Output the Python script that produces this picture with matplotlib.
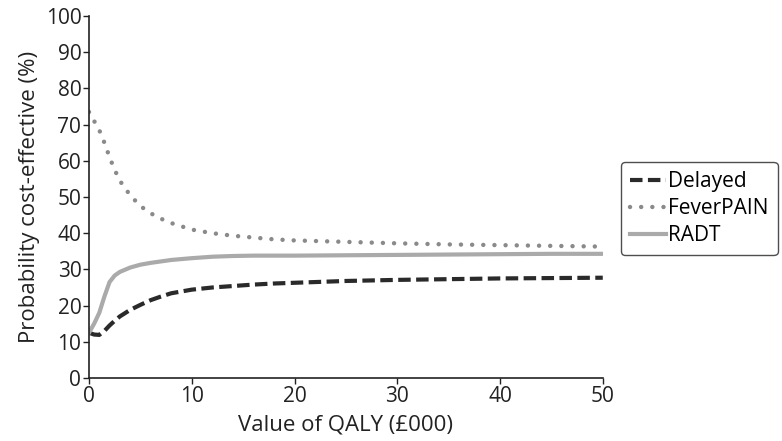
import numpy as np
import matplotlib.pyplot as plt

plt.rcParams['font.family'] = ['Open Sans', 'DejaVu Sans']

# willingness to pay per QALY (£000)
qaly = [0, 0.5, 1, 1.5, 2, 2.5, 3, 4, 5, 6, 7, 8, 10, 12, 14, 16, 18, 20,
        25, 30, 35, 40, 45, 50]
delayed = [12.5, 12.0, 11.9, 13.0, 14.5, 15.8, 17.0, 18.8, 20.2, 21.5, 22.5,
           23.4, 24.4, 25.0, 25.4, 25.8, 26.1, 26.3, 26.8, 27.1, 27.3, 27.5,
           27.6, 27.7]
feverpain = [73.5, 71.0, 68.5, 65.0, 61.0, 57.5, 54.5, 50.5, 47.5, 45.5, 44.0,
             42.8, 41.0, 40.0, 39.3, 38.8, 38.3, 38.0, 37.6, 37.2, 36.9, 36.7,
             36.5, 36.3]
radt = [12.5, 15.0, 18.0, 22.5, 26.5, 28.3, 29.3, 30.5, 31.3, 31.8, 32.2,
        32.6, 33.1, 33.5, 33.7, 33.8, 33.8, 33.8, 33.9, 34.0, 34.1, 34.2,
        34.3, 34.3]

fig = plt.figure(figsize=(7.82, 4.41), dpi=100)
ax = fig.add_axes([0.1138, 0.1429, 0.657, 0.8208])

ax.plot(qaly, delayed, color='#2a2a2a', lw=3.0, ls=(0, (3.0, 1.3)),
        label='Delayed')
ax.plot(qaly, feverpain, color='#8a8a8a', lw=3.2, ls=(0, (0.01, 2.5)),
        dash_capstyle='round', label='FeverPAIN')
ax.plot(qaly, radt, color='#aaaaaa', lw=3.0, label='RADT')

ax.set_xlim(0, 50)
ax.set_ylim(0, 100)
ax.set_xticks(np.arange(0, 51, 10))
ax.set_yticks(np.arange(0, 101, 10))
ax.tick_params(labelsize=15, length=4, width=1, colors='#222222', pad=1.5)
for s in ['top', 'right']:
    ax.spines[s].set_visible(False)
for s in ['left', 'bottom']:
    ax.spines[s].set_linewidth(1.2)
    ax.spines[s].set_color('#222222')

ax.set_xlabel('Value of QALY (£000)', fontsize=16, color='#222222', labelpad=6)
ax.set_ylabel('Probability cost-effective (%)', fontsize=16,
              color='#222222', labelpad=4)

leg = fig.legend(loc='upper left', bbox_to_anchor=(0.794, 0.633),
                 fontsize=15, handlelength=1.7, handletextpad=0.1,
                 labelspacing=0.28, borderpad=0.45, frameon=True,
                 fancybox=True, borderaxespad=0)
leg.get_frame().set_edgecolor('#222222')
leg.get_frame().set_linewidth(1.0)

fig.savefig('out.png', dpi=100)
